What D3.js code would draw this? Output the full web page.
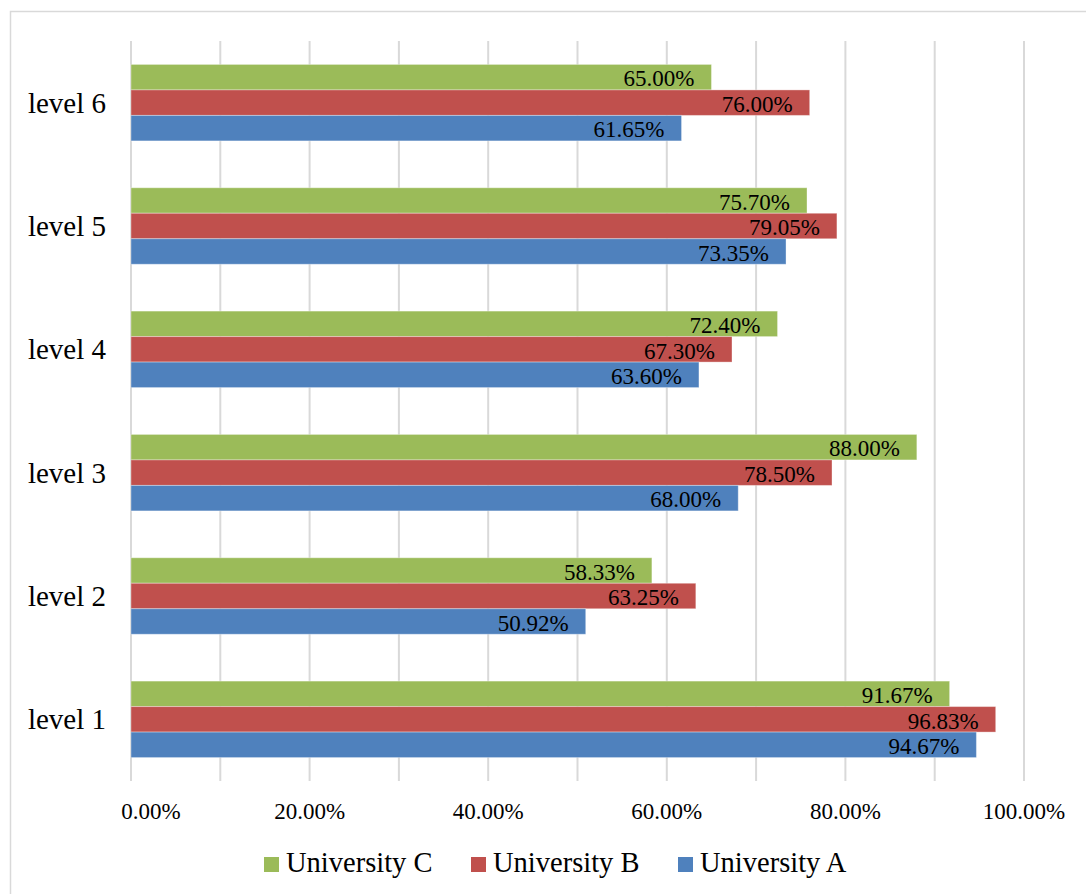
<!DOCTYPE html>
<html>
<head>
<meta charset="utf-8">
<script src="https://cdn.jsdelivr.net/npm/d3@7"></script>
<style>
  body { margin: 0; background: #fff; }
  text { font-family: "Liberation Serif", "Times New Roman", serif; fill: #000; }
</style>
</head>
<body>
<div id="chart"></div>
<script>
// --- Data ---
const levels = ["level 1", "level 2", "level 3", "level 4", "level 5", "level 6"];
const seriesNames = ["University C", "University B", "University A"];
const universityA = [94.67, 50.92, 68.00, 63.60, 73.35, 61.65];
const universityB = [96.83, 63.25, 78.50, 67.30, 79.05, 76.00];
const universityC = [91.67, 58.33, 88.00, 72.40, 75.70, 65.00];
const gridValues = [0, 10, 20, 30, 40, 50, 60, 70, 80, 90, 100];
const tickValues = [0, 20, 40, 60, 80, 100];

const seriesValues = {
    "University A": universityA,
    "University B": universityB,
    "University C": universityC
};

const W = 1086, H = 894;
const margin = { top: 41, left: 131, right: 62, bottom: 113 };

const svg = d3.select("#chart").append("svg")
    .attr("width", W)
    .attr("height", H);

// chart frame
svg.append("rect")
    .attr("x", 10.5).attr("y", 11.5)
    .attr("width", W + 20).attr("height", H + 20)
    .attr("fill", "none")
    .attr("stroke", "#d9d9d9")
    .attr("stroke-width", 1.5);

// Scales
const x = d3.scaleLinear()
    .domain([0, 100])
    .range([margin.left, W - margin.right]);

const y0 = d3.scaleBand()
    .domain(levels.slice().reverse()) // level 6 on top
    .range([margin.top, H - margin.bottom])
    .paddingInner(0.38)
    .paddingOuter(0.19);

const y1 = d3.scaleBand()
    .domain(seriesNames)
    .range([0, y0.bandwidth()]);

const color = d3.scaleOrdinal()
    .domain(["University A", "University B", "University C"])
    .range(["#4f81bd", "#c0504d", "#9bbb59"]);

// Gridlines
svg.append("g")
    .selectAll("line")
    .data(gridValues)
    .enter().append("line")
    .attr("x1", d => x(d)).attr("x2", d => x(d))
    .attr("y1", margin.top).attr("y2", H - margin.bottom)
    .attr("stroke", "#d9d9d9")
    .attr("stroke-width", 2);

// Tick labels
svg.append("g")
    .selectAll("text")
    .data(tickValues)
    .enter().append("text")
    .attr("x", d => x(d))
    .attr("dx", d => d === 0 ? 20 : 0)
    .attr("y", 819)
    .attr("text-anchor", "middle")
    .attr("font-size", "23px")
    .text(d => d3.format(".2f")(d) + "%");

// Category labels
svg.append("g")
    .selectAll("text")
    .data(levels)
    .enter().append("text")
    .attr("x", margin.left - 25)
    .attr("y", d => y0(d) + y0.bandwidth() / 2)
    .attr("dy", "0.35em")
    .attr("text-anchor", "end")
    .attr("font-size", "29px")
    .text(d => d);

// Bars
const groups = svg.append("g")
    .selectAll("g")
    .data(levels)
    .enter().append("g")
    .attr("transform", d => `translate(0,${y0(d)})`);

const bars = groups.selectAll("g")
    .data((lv, i) => seriesNames.map(s => ({ series: s, value: seriesValues[s][i] })))
    .enter().append("g");

bars.append("rect")
    .attr("x", x(0))
    .attr("y", d => y1(d.series))
    .attr("width", d => x(d.value) - x(0))
    .attr("height", y1.bandwidth())
    .attr("fill", d => color(d.series))
    .attr("stroke", "#fff")
    .attr("stroke-opacity", 0.35)
    .attr("stroke-width", 1);

bars.append("text")
    .attr("x", d => x(d.value) - 17)
    .attr("y", d => y1(d.series) + y1.bandwidth() / 2)
    .attr("dy", "0.4em")
    .attr("text-anchor", "end")
    .attr("font-size", "23px")
    .text(d => d3.format(".2f")(d.value) + "%");

// Legend
const legendX = [264, 471, 678];
const legend = svg.append("g");
seriesNames.forEach((name, i) => {
    const row = legend.append("g")
        .attr("transform", `translate(${legendX[i]}, 857)`);
    row.append("rect")
        .attr("width", 15)
        .attr("height", 15)
        .attr("fill", color(name));
    row.append("text")
        .attr("x", 22)
        .attr("y", 15)
        .attr("font-size", "28.5px")
        .text(name);
});
</script>
</body>
</html>
